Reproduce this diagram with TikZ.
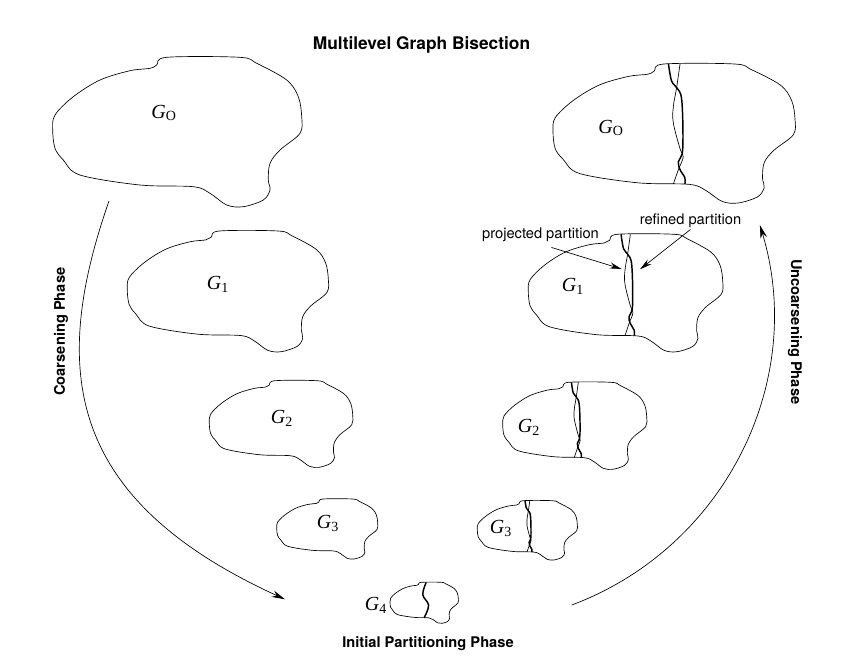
\documentclass[tikz,border=0pt]{standalone}
\usepackage{fontspec}
\setsansfont{TeX Gyre Heros}
\newfontfamily\timesfont{Liberation Serif}
\usetikzlibrary{arrows.meta}

% outline of one graph, in a 249 x 149.4 box
\newcommand{\blobshape}{plot[smooth cycle, tension=0.55] coordinates {(104,7.7) (114,0) (187,0) (204,6) (234,22.7) (245.6,39.4) (249,59.4) (247.3,76) (227.3,92.7) (217.3,106) (215.6,122.7) (217.3,132.7) (210.6,142.7) (190.6,149.4) (174,147.7) (157.3,136) (140.6,129.4) (87.3,127.7) (27.3,117.7) (10.6,102.7) (2.3,91) (0,72.7) (2.3,57.7) (20.6,39.4) (47.3,22.7) (77.3,13.4) (97.3,11)}}
\newcommand{\projcut}{plot[smooth, tension=0.6] coordinates {(130.7,0) (127.2,25.3) (123.8,46) (123.8,63.3) (130.7,91) (134,99.7) (129,113.6) (123.8,129)}}
\newcommand{\refcut}{plot[smooth, tension=0.6] coordinates {(118.8,0) (122,18.3) (127.2,25.3) (132.5,39.1) (133.5,91) (129,104.9) (130.7,113.6) (135.7,122.2) (135.7,129)}}
\newcommand{\initcut}{plot[smooth, tension=0.6] coordinates {(132,0) (119.5,44.8) (140.7,83.7) (124.5,129)}}
\newcommand{\gname}[1]{\textit{G}\textsubscript{#1}}

\tikzset{every picture/.style={line width=0.75pt}}
\tikzset{
  inbox/.style n args={4}{shift={(#1,#2)},xscale=#3/249,yscale=#4/149.4},
  outline/.style={line width=0.5pt},
  thincut/.style={line width=0.5pt},
  boldcut/.style={line width=1.1pt},
  phasearrow/.style={line width=0.5pt,-{Stealth[length=10pt,width=5pt]}},
  pointer/.style={line width=0.5pt,-{Stealth[length=9pt,width=4.5pt]}},
  glabel/.style={font=\timesfont\fontsize{15}{17}\selectfont,inner sep=0.75pt},
  phase/.style={font=\sffamily\bfseries\fontsize{11}{13}\selectfont,inner sep=0.75pt},
  note/.style={font=\sffamily\fontsize{11}{13}\selectfont,inner sep=0.75pt}
}

\begin{document}
\begin{tikzpicture}[x=0.75pt,y=0.75pt,yscale=-1,xscale=1]
        \useasboundingbox (0,0) rectangle (841,668);

        %Shape: Blob [left, G_O]
        \begin{scope}[inbox={52.7}{57.3}{249}{149.4}]
          \draw[outline] \blobshape;
        \end{scope}
        %Shape: Blob [left, G_1]
        \begin{scope}[inbox={127.3}{231}{201}{120.7}]
          \draw[outline] \blobshape;
        \end{scope}
        %Shape: Blob [left, G_2]
        \begin{scope}[inbox={209.3}{380.7}{143.4}{86.6}]
          \draw[outline] \blobshape;
        \end{scope}
        %Shape: Blob [left, G_3]
        \begin{scope}[inbox={276.7}{499}{101}{60}]
          \draw[outline] \blobshape;
        \end{scope}
        %Shape: Blob [G_4, initial cut]
        \begin{scope}[inbox={390}{582.3}{68.3}{41}]
          \draw[outline] \blobshape;
          \draw[boldcut] \initcut;
        \end{scope}
        %Shape: Blob [right, G_3]
        \begin{scope}[inbox={477.3}{500.7}{100}{59.3}]
          \draw[outline] \blobshape;
          \draw[thincut] \projcut;
          \draw[boldcut] \refcut;
        \end{scope}
        %Shape: Blob [right, G_2]
        \begin{scope}[inbox={502.7}{382.3}{144}{87}]
          \draw[outline] \blobshape;
          \draw[thincut] \projcut;
          \draw[boldcut] \refcut;
        \end{scope}
        %Shape: Blob [right, G_1]
        \begin{scope}[inbox={528.3}{234.3}{194.4}{117.4}]
          \draw[outline] \blobshape;
          \draw[thincut] \projcut;
          \draw[boldcut] \refcut;
        \end{scope}
        %Shape: Blob [right, G_O]
        \begin{scope}[inbox={553}{64}{242}{139}]
          \draw[outline] \blobshape;
          \draw[thincut] \projcut;
          \draw[boldcut] \refcut;
        \end{scope}

        %Curve Lines [coarsening]
        \draw[phasearrow] (109,201) .. controls (49.6,370.9) and (66.8,499.5) .. (285,599.3);
        %Curve Lines [uncoarsening]
        \draw[phasearrow] (571.7,605) arc[start angle=69.5, end angle=-16.8, radius=310];

        % Text Node
        \draw (421.5,45) node [font=\sffamily\bfseries\fontsize{13}{15}\selectfont][inner sep=0.75pt] (title) {Multilevel Graph Bisection};
        % Text Node
        \draw (61,331.7) node [phase,rotate=90] (coarse) {Coarsening Phase};
        % Text Node
        \draw (795,331.7) node [phase,rotate=-90] (uncoarse) {Uncoarsening Phase};
        % Text Node
        \draw (428,644) node [phase] (initial) {Initial Partitioning Phase};

        % Text Node
        \draw (164,113) node [glabel] (g0left) {\gname{O}};
        % Text Node
        \draw (218,284) node [glabel] (g1left) {\gname{1}};
        % Text Node
        \draw (282,418) node [glabel] (g2left) {\gname{2}};
        % Text Node
        \draw (328,523) node [glabel] (g3left) {\gname{3}};
        % Text Node
        \draw (376,605) node [glabel] (g4) {\gname{4}};
        % Text Node
        \draw (501,528) node [glabel] (g3right) {\gname{3}};
        % Text Node
        \draw (529,427) node [glabel] (g2right) {\gname{2}};
        % Text Node
        \draw (573,286) node [glabel] (g1right) {\gname{1}};
        % Text Node
        \draw (611,128) node [glabel] (g0right) {\gname{O}};

        % Text Node
        \draw (540.5,235) node [note] (projlbl) {projected partition};
        % Text Node
        \draw (690.5,221) node [note] (reflbl) {refined partition};

        \coordinate (projtip) at (621.7,269);
        \coordinate (reftip) at (640,269.3);
        %Straight Lines [pointers]
        \draw[pointer] ([shift={(11,4)}]projlbl.south) -- (projtip);
        \draw[pointer] (reflbl.south) -- (reftip);

    \end{tikzpicture}
\end{document}
